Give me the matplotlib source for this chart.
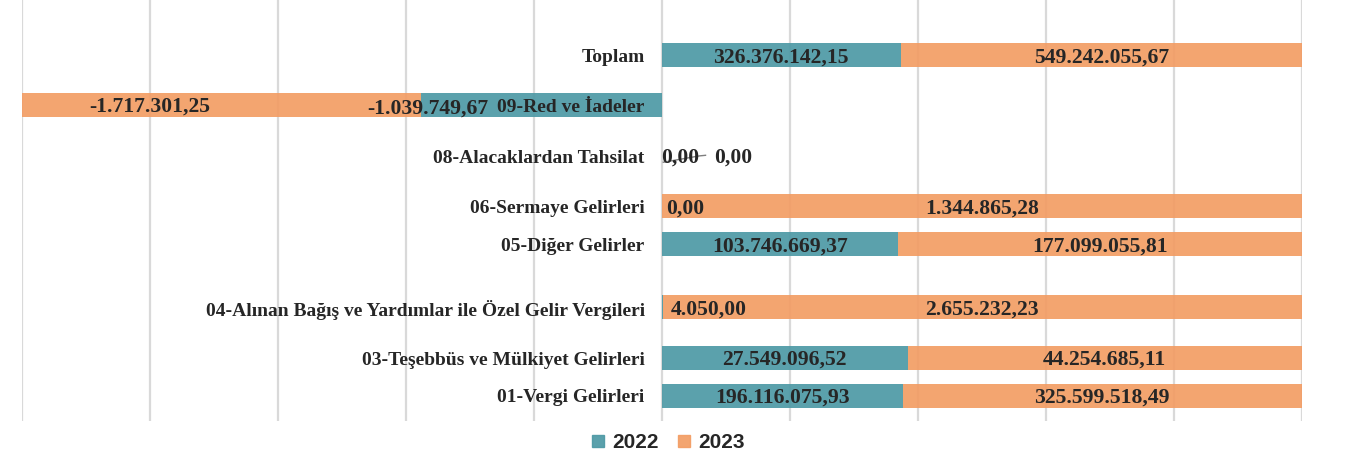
import matplotlib
matplotlib.use("Agg")
import matplotlib.pyplot as plt
from matplotlib.lines import Line2D

categories = ["01-Vergi Gelirleri", "03-Teşebbüs ve Mülkiyet Gelirleri",
              "04-Alınan Bağış ve Yardımlar ile Özel Gelir Vergileri",
              "05-Diğer Gelirler", "06-Sermaye Gelirleri",
              "08-Alacaklardan Tahsilat", "09-Red ve İadeler", "Toplam"]
v2022 = [196116075.93, 27549096.52, 4050.00, 103746669.37, 0.00, 0.00, -1039749.67, 326376142.15]
v2023 = [325599518.49, 44254685.11, 2655232.23, 177099055.81, 1344865.28, 0.00, -1717301.25, 549242055.67]
series_names = ["2022", "2023"]

# layout (category slots on the value axis)
slots = [0, 3, 7, 12, 15, 19, 23, 27]

C22 = (77/255, 153/255, 165/255)
C23 = (243/255, 157/255, 100/255)
ALPHA = 0.92
TXT = "#262626"

def fmt(v):
    s = f"{abs(v):,.2f}"
    s = s.replace(",", "X").replace(".", ",").replace("X", ".")
    return ("-" if v < 0 else "") + s

fig = plt.figure(figsize=(13.48, 4.55), dpi=100)
ax = fig.add_axes([22/1348, 1 - 421/455, 1280/1348, 421/455])
ax.set_xlim(-1, 1)
ax.set_ylim(-2, 396/12.63)

for gx in [-1 + 0.2*i for i in range(11)]:
    ax.axvline(gx, color="#D9D9D9", lw=1.6, zorder=0)

bh = 1.9
VS = 15.6
CS = 14.0
dy = -0.17
serif = dict(family="Liberation Serif", weight="bold", color=TXT)
for i, (cat, a, b, y) in enumerate(zip(categories, v2022, v2023, slots)):
    tot = a + b
    ty = y + dy
    if tot != 0:
        pa = a / tot if a != 0 else 0.0
        pb = b / tot
        if tot > 0:
            ax.barh(y, pa, left=0, height=bh, color=C22, alpha=ALPHA, lw=0, zorder=2)
            ax.barh(y, pb, left=pa, height=bh, color=C23, alpha=ALPHA, lw=0, zorder=2)
            if pa > 0.05:
                ax.text(pa/2, ty, fmt(a), ha="center", va="center", fontsize=VS, zorder=4, **serif)
            else:
                ax.text(0.013 if a != 0 else 0.006, ty, fmt(a), ha="left", va="center",
                        fontsize=VS, zorder=4, **serif)
            ax.text(pa + pb/2 if pa > 0.05 else 0.5, ty, fmt(b), ha="center", va="center",
                    fontsize=VS, zorder=4, **serif)
        else:
            ax.barh(y, -pa, left=0, height=bh, color=C22, alpha=ALPHA, lw=0, zorder=2)
            ax.barh(y, -pb, left=-pa, height=bh, color=C23, alpha=ALPHA, lw=0, zorder=2)
            ax.text(-0.80, ty + 0.1, fmt(b), ha="center", va="center", fontsize=VS, zorder=4, **serif)
            ax.text(-0.366, ty - 0.05, fmt(a), ha="center", va="center", fontsize=VS, zorder=4, **serif)
    else:
        ax.text(0.029, ty, fmt(a), ha="center", va="center", fontsize=VS, zorder=4, **serif)
        ax.text(0.111, ty, fmt(b), ha="center", va="center", fontsize=VS, zorder=4, **serif)
        ax.plot([0.002, 0.058, 0.068], [y - 0.5, y + 0.0, y + 0.05], color="#7F7F7F", lw=1, zorder=3)
    ax.text(-0.027, ty, cat, ha="right", va="center", fontsize=CS, zorder=5, **serif)

for s in ax.spines.values():
    s.set_visible(False)
ax.set_xticks([])
ax.set_yticks([])

handles = [Line2D([], [], marker="s", ls="", markersize=9, color=C22, alpha=ALPHA),
           Line2D([], [], marker="s", ls="", markersize=9, color=C23, alpha=ALPHA)]
fig.legend(handles, series_names, loc="center", bbox_to_anchor=(667/1348, 1 - 443/455),
           ncol=2, frameon=False, handlelength=0.8, handletextpad=0.3, columnspacing=0.8,
           prop=dict(family=["Liberation Sans Narrow", "Liberation Sans"], weight="bold", size=15),
           labelcolor=TXT)

fig.savefig("out.png", dpi=100)
